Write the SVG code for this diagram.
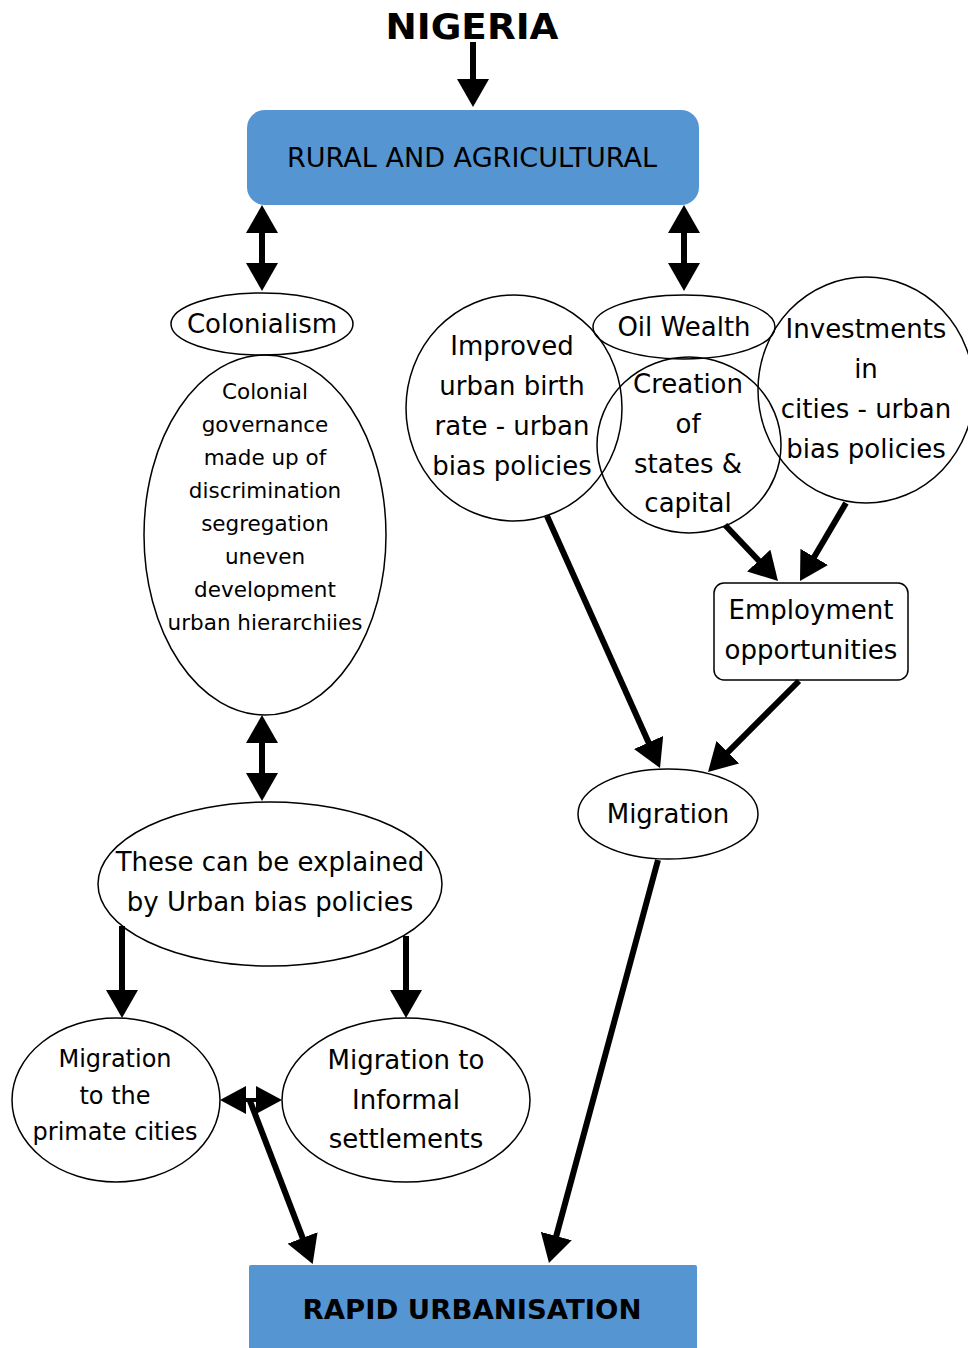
<svg xmlns="http://www.w3.org/2000/svg" width="968" height="1348" viewBox="0 0 968 1348">
<style>
text{font-family:"DejaVu Sans","Verdana",sans-serif;fill:#000;text-anchor:middle}
.t{font-size:26px}
.s{font-size:21.5px}
.m{font-size:24px}
.b{font-weight:bold}
.n{fill:none;stroke:#000;stroke-width:1.5}
.box{fill:#5596D2;stroke:none}
.c{stroke:#000;stroke-width:6;fill:none}
.ch{marker-end:url(#ah)}
.cd{marker-start:url(#ah);marker-end:url(#ah)}
</style>
<defs>
<marker id="ah" markerUnits="userSpaceOnUse" viewBox="0 0 28 32" markerWidth="28" markerHeight="32" refX="3" refY="16" orient="auto-start-reverse">
<path d="M0,0 L28,16 L0,32 z" fill="#000"/>
</marker>
<marker id="ahs" markerUnits="userSpaceOnUse" viewBox="0 0 26 28" markerWidth="26" markerHeight="28" refX="3" refY="14" orient="auto-start-reverse">
<path d="M0,0 L26,14 L0,28 z" fill="#000"/>
</marker>
</defs>

<g id="nigeria"><text class="b" x="472" y="39" font-size="36" textLength="173" lengthAdjust="spacingAndGlyphs">NIGERIA</text></g>

<g id="rural"><rect class="box" x="247" y="110" width="452" height="95" rx="18"/><text class="t" x="472" y="167" textLength="370" lengthAdjust="spacingAndGlyphs">RURAL AND AGRICULTURAL</text></g>

<g id="colonialism"><ellipse class="n" cx="262" cy="324" rx="91" ry="31"/><text class="t" x="262" y="333">Colonialism</text></g>

<g id="colonial-governance"><ellipse class="n" cx="265" cy="535" rx="121" ry="180"/>
<text class="s" x="265" y="399">Colonial</text>
<text class="s" x="265" y="432">governance</text>
<text class="s" x="265" y="465">made up of</text>
<text class="s" x="265" y="498">discrimination</text>
<text class="s" x="265" y="531">segregation</text>
<text class="s" x="265" y="564">uneven</text>
<text class="s" x="265" y="597">development</text>
<text class="s" x="265" y="630">urban hierarchiies</text></g>

<g id="explained"><ellipse class="n" cx="270" cy="884" rx="172" ry="82"/>
<text class="t" x="270" y="871">These can be explained</text>
<text class="t" x="270" y="911">by Urban bias policies</text></g>

<g id="primate"><ellipse class="n" cx="116" cy="1100" rx="104" ry="82"/>
<text class="m" x="115" y="1067">Migration</text>
<text class="m" x="115" y="1104">to the</text>
<text class="m" x="115" y="1140">primate cities</text></g>

<g id="informal"><ellipse class="n" cx="406" cy="1100" rx="124" ry="82"/>
<text class="t" x="406" y="1069">Migration to</text>
<text class="t" x="406" y="1109">Informal</text>
<text class="t" x="406" y="1148">settlements</text></g>

<g id="rapid"><rect class="box" x="249" y="1265" width="448" height="90" rx="2"/><text class="b" x="472" y="1319" font-size="26" textLength="339" lengthAdjust="spacingAndGlyphs">RAPID URBANISATION</text></g>

<g id="oil"><ellipse class="n" cx="684" cy="327" rx="91" ry="32"/><text class="t" x="684" y="336">Oil Wealth</text></g>

<g id="improved"><ellipse class="n" cx="514" cy="408" rx="108" ry="113"/>
<text class="t" x="512" y="355">Improved</text>
<text class="t" x="512" y="395">urban birth</text>
<text class="t" x="512" y="435">rate - urban</text>
<text class="t" x="512" y="475">bias policies</text></g>

<g id="creation"><ellipse class="n" cx="689" cy="445" rx="92" ry="88"/>
<text class="t" x="688" y="393">Creation</text>
<text class="t" x="688" y="433">of</text>
<text class="t" x="688" y="473">states &amp;</text>
<text class="t" x="688" y="512">capital</text></g>

<g id="investments"><ellipse class="n" cx="866" cy="390" rx="108" ry="113"/>
<text class="t" x="866" y="338">Investments</text>
<text class="t" x="866" y="378">in</text>
<text class="t" x="866" y="418">cities - urban</text>
<text class="t" x="866" y="458">bias policies</text></g>

<g id="employment"><rect class="n" x="714" y="583" width="194" height="97" rx="10"/>
<text class="t" x="811" y="619">Employment</text>
<text class="t" x="811" y="659">opportunities</text></g>

<g id="migration"><ellipse class="n" cx="668" cy="814" rx="90" ry="45"/><text class="t" x="668" y="823">Migration</text></g>

<g id="connectors">
<line class="c ch" x1="473" y1="42" x2="473" y2="82"/>
<line class="c cd" x1="262" y1="230" x2="262" y2="266"/>
<line class="c cd" x1="684" y1="230" x2="684" y2="266"/>
<line class="c cd" x1="262" y1="740" x2="262" y2="776"/>
<line class="c ch" x1="122" y1="926" x2="122" y2="993"/>
<line class="c ch" x1="406" y1="936" x2="406" y2="993"/>
<line class="c ch" x1="725" y1="525" x2="760.8" y2="562.8"/>
<line class="c ch" x1="846" y1="503" x2="812.7" y2="559.5"/>
<line class="c ch" x1="547" y1="516" x2="649.8" y2="745.2"/>
<line class="c ch" x1="799" y1="681" x2="725.7" y2="754.3"/>
<line class="c ch" x1="658" y1="860" x2="555.5" y2="1238.9"/>
<line x1="243" y1="1100" x2="259" y2="1100" stroke="#000" stroke-width="4" marker-start="url(#ahs)" marker-end="url(#ahs)"/>
<line class="c ch" x1="250" y1="1101" x2="303.7" y2="1240.7"/>
</g>
</svg>
